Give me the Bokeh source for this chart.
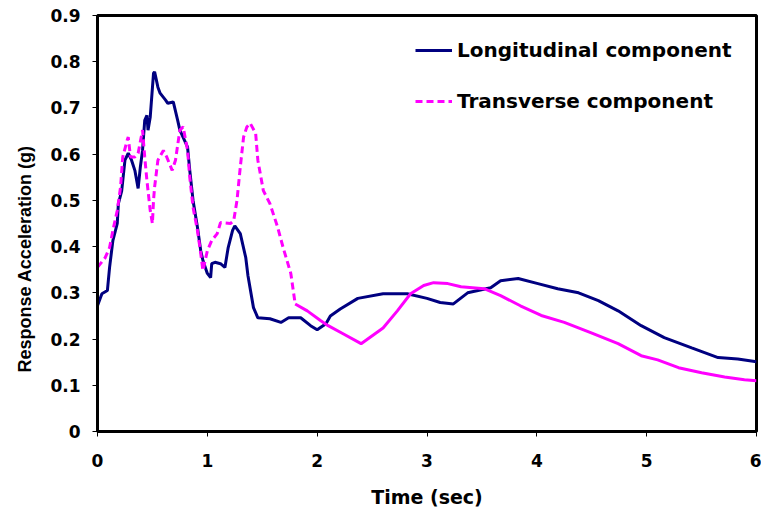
from bokeh.plotting import figure
from bokeh.models import Range1d, FixedTicker, Legend, LegendItem, Title
from bokeh.embed import file_html
from bokeh.resources import INLINE

# Response spectra, time (sec) vs response acceleration (g)
long_t = [0.00, 0.04, 0.09, 0.11, 0.14, 0.18, 0.19, 0.22, 0.25, 0.28, 0.31, 0.34,
          0.37, 0.39, 0.41, 0.43, 0.45, 0.46, 0.48, 0.51, 0.52, 0.55, 0.57, 0.62,
          0.64, 0.69, 0.73, 0.75, 0.82, 0.84, 0.87, 0.91, 0.94, 0.96, 1.00, 1.03,
          1.04, 1.07, 1.12, 1.16, 1.19, 1.23, 1.25, 1.30, 1.35, 1.37, 1.42, 1.46,
          1.57, 1.67, 1.74, 1.85, 1.94, 2.00, 2.08, 2.12, 2.21, 2.37, 2.60, 2.82,
          3.00, 3.12, 3.24, 3.37, 3.58, 3.67, 3.83, 4.01, 4.19, 4.38, 4.56, 4.74,
          4.95, 5.16, 5.41, 5.65, 5.83, 6.00]
long_acc = [0.272, 0.298, 0.305, 0.355, 0.413, 0.450, 0.493, 0.520, 0.587, 0.602, 0.587, 0.565,
            0.526, 0.572, 0.608, 0.673, 0.684, 0.652, 0.680, 0.775, 0.778, 0.745, 0.732, 0.717,
            0.710, 0.713, 0.673, 0.652, 0.615, 0.565, 0.500, 0.442, 0.391, 0.370, 0.342, 0.333,
            0.363, 0.366, 0.363, 0.355, 0.398, 0.435, 0.445, 0.428, 0.376, 0.337, 0.268, 0.246,
            0.244, 0.236, 0.246, 0.246, 0.229, 0.220, 0.233, 0.250, 0.265, 0.288, 0.298, 0.298,
            0.288, 0.279, 0.276, 0.300, 0.311, 0.326, 0.331, 0.320, 0.309, 0.300, 0.283, 0.261,
            0.229, 0.203, 0.181, 0.160, 0.157, 0.151]

trans_t = [0.00, 0.07, 0.11, 0.14, 0.18, 0.21, 0.23, 0.27, 0.28, 0.30, 0.34, 0.37,
           0.41, 0.43, 0.45, 0.48, 0.50, 0.51, 0.52, 0.55, 0.60, 0.63, 0.68, 0.71,
           0.75, 0.78, 0.82, 0.84, 0.87, 0.91, 0.94, 0.96, 1.00, 1.04, 1.09, 1.12,
           1.21, 1.24, 1.27, 1.30, 1.33, 1.36, 1.39, 1.44, 1.46, 1.51, 1.57, 1.64,
           1.69, 1.76, 1.80, 1.91, 2.03, 2.10, 2.24, 2.40, 2.60, 2.73, 2.85, 2.97,
           3.06, 3.19, 3.31, 3.52, 3.67, 3.85, 4.04, 4.25, 4.49, 4.74, 4.95, 5.10,
           5.29, 5.50, 5.71, 5.89, 6.00]
trans_acc = [0.355, 0.376, 0.398, 0.435, 0.478, 0.529, 0.594, 0.630, 0.637, 0.594, 0.594, 0.602,
             0.652, 0.594, 0.543, 0.478, 0.450, 0.500, 0.529, 0.587, 0.608, 0.594, 0.565, 0.587,
             0.652, 0.659, 0.608, 0.550, 0.485, 0.435, 0.385, 0.348, 0.391, 0.413, 0.428, 0.452,
             0.450, 0.456, 0.500, 0.572, 0.637, 0.659, 0.667, 0.645, 0.587, 0.521, 0.493, 0.442,
             0.398, 0.342, 0.276, 0.261, 0.240, 0.229, 0.211, 0.190, 0.224, 0.261, 0.298, 0.316,
             0.322, 0.320, 0.313, 0.309, 0.294, 0.272, 0.251, 0.236, 0.214, 0.190, 0.164, 0.155,
             0.138, 0.127, 0.118, 0.112, 0.110]

x_ticks = [0, 1, 2, 3, 4, 5, 6]
y_ticks = [0, 0.1, 0.2, 0.3, 0.4, 0.5, 0.6, 0.7, 0.8, 0.9]
y_tick_labels = ["0", "0.1", "0.2", "0.3", "0.4", "0.5", "0.6", "0.7", "0.8", "0.9"]

NAVY = "#000080"
MAGENTA = "#FF00FF"
WIDE_FONT = "DejaVu Sans"
ARIAL = "Liberation Sans"

p = figure(width=761, height=518, output_backend="svg", toolbar_location=None,
           x_range=Range1d(0, 6), y_range=Range1d(0, 0.9),
           min_border_left=96, min_border_right=5, min_border_top=15, min_border_bottom=87)
p.background_fill_color = "white"
p.border_fill_color = "white"
p.grid.visible = False
p.outline_line_color = "black"
p.outline_line_width = 3

for ax in (p.xaxis[0], p.yaxis[0]):
    ax.axis_line_width = 3
    ax.axis_line_color = "black"
    ax.major_tick_in = 0
    ax.major_tick_out = 5
    ax.major_tick_line_color = "black"
    ax.minor_tick_line_color = None
    ax.major_label_text_font = WIDE_FONT
    ax.major_label_text_font_style = "bold"
    ax.major_label_text_font_size = "17px"
    ax.major_label_text_color = "black"

p.xaxis.ticker = FixedTicker(ticks=x_ticks)
p.yaxis.ticker = FixedTicker(ticks=y_ticks)
p.yaxis.major_label_overrides = {t: s for t, s in zip(y_ticks, y_tick_labels)}
p.xaxis.major_label_standoff = 17
p.yaxis.major_label_standoff = 12

p.xaxis.axis_label = "Time (sec)"
p.xaxis.axis_label_text_font = WIDE_FONT
p.xaxis.axis_label_text_font_style = "bold"
p.xaxis.axis_label_text_font_size = "19px"
p.xaxis.axis_label_text_color = "black"
p.xaxis.axis_label_standoff = 16

# Vertical title on the left side, starting a little above the frame's bottom
p.add_layout(Title(text="Response Acceleration (g)", align="left", offset=59,
                   text_font=ARIAL, text_font_style="bold", text_font_size="18px",
                   text_color="black", standoff=25), "left")

r_long = p.line(long_t, long_acc, line_color=NAVY, line_width=3)

# The transverse trace reads as dashed over the steep early part and solid afterwards
split = trans_t.index(1.80)
r_trans = p.line(trans_t[:split + 1], trans_acc[:split + 1], line_color=MAGENTA,
                 line_width=3, line_dash="7 4")
p.line(trans_t[split:], trans_acc[split:], line_color=MAGENTA, line_width=3)

legend = Legend(items=[LegendItem(label="Longitudinal component", renderers=[r_long]),
                       LegendItem(label="Transverse component", renderers=[r_trans])],
                location=(318, 318))
legend.border_line_color = None
legend.background_fill_alpha = 0
legend.margin = 0
legend.padding = 0
legend.spacing = 27
legend.label_height = 24
legend.glyph_height = 24
legend.glyph_width = 37
legend.label_standoff = 5
legend.label_text_font = WIDE_FONT
legend.label_text_font_style = "bold"
legend.label_text_font_size = "20px"
legend.label_text_color = "black"
p.add_layout(legend)

open("out.html", "w").write(file_html(p, INLINE))
